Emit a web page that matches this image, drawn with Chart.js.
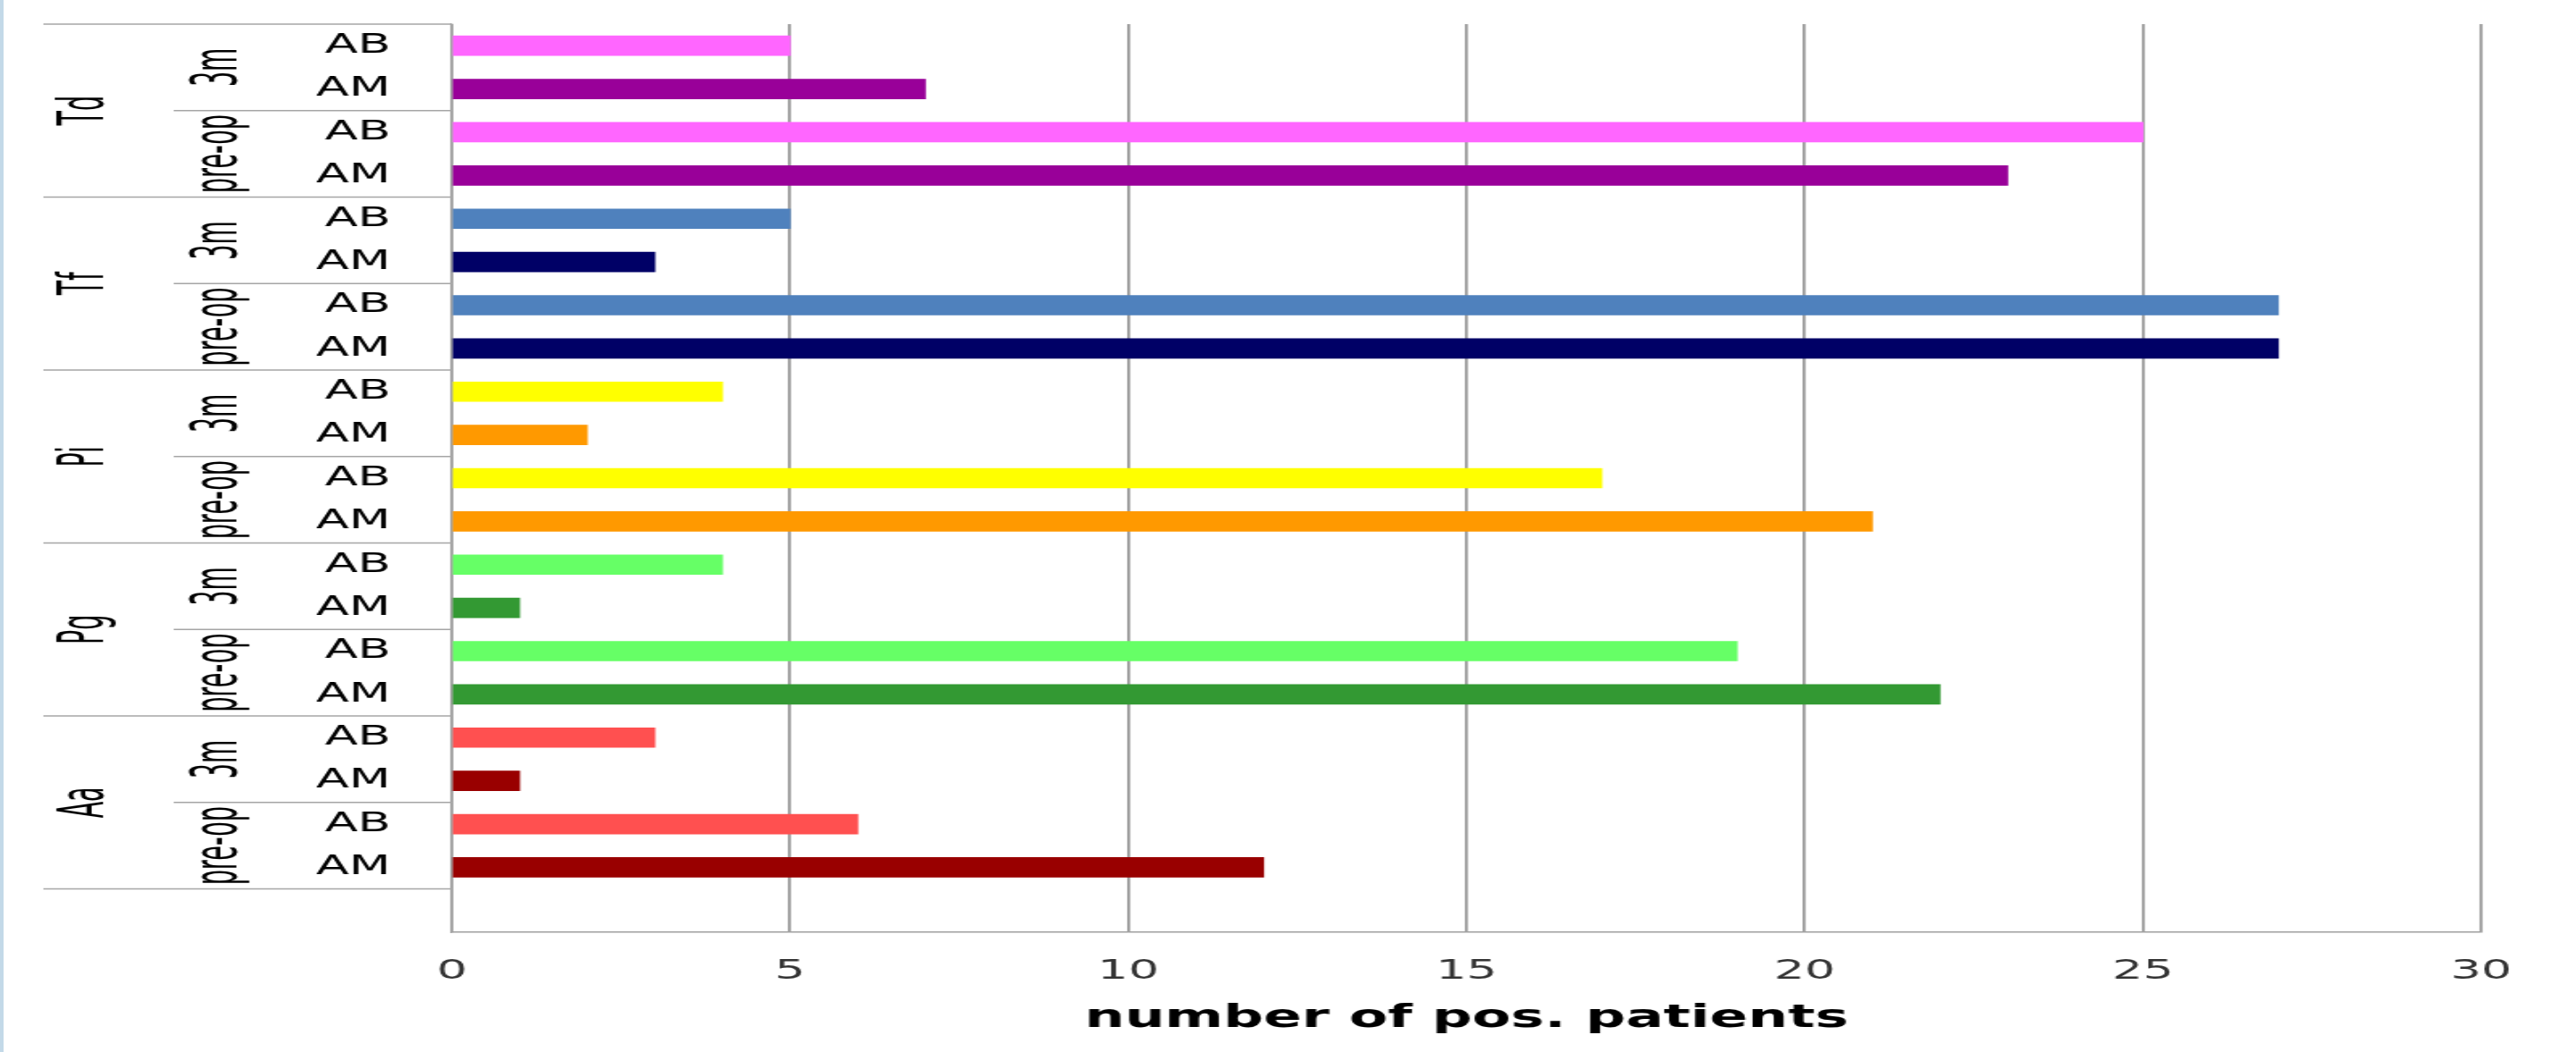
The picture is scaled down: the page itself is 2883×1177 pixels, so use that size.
<!doctype html>
<html lang="en">
<head>
  <meta charset="utf-8">
  <script src="https://cdn.jsdelivr.net/npm/chart.js@4.4.1/dist/chart.umd.min.js"></script>
  <title>pos. patients</title>
  <style>
    body { margin: 0; background: #fff; }
    #wrap { position: relative; width: 2883px; height: 1177px; }
    /* the chart was stretched sideways in the source, so the canvas is too */
    #myChart { width: 2883px !important; height: 1177px !important; display: block; }
    #edge { position: absolute; left: 0; top: 0; width: 4px; height: 1177px; background: #c3d9e8; }
  </style>
</head>
<body>
  <div id="wrap">
    <canvas id="myChart" width="1602" height="1177" style="width:2883px;height:1177px"></canvas>
    <div id="edge"></div>
  </div>
  <script>
    // data, top to bottom
    const groups = ['Td', 'Tf', 'Pi', 'Pg', 'Aa'];
    const periods = ['3m', 'pre-op'];
    const assays = ['AB', 'AM'];
    const values = [
      5, 7, 25, 23,   // Td
      5, 3, 27, 27,   // Tf
      4, 2, 17, 21,   // Pi
      4, 1, 19, 22,   // Pg
      3, 1, 6, 12     // Aa
    ];
    const abColors = ['#ff66ff', '#4f81bd', '#ffff00', '#66ff66', '#ff5050'];
    const amColors = ['#990099', '#000066', '#ff9900', '#339933', '#990000'];
    const xTicks = [0, 5, 10, 15, 20, 25, 30];

    const labels = [];
    const colors = [];
    groups.forEach((g, gi) => {
      periods.forEach(p => {
        assays.forEach(a => {
          labels.push(a);
          colors.push(a === 'AB' ? abColors[gi] : amColors[gi]);
        });
      });
    });
    // empty row at the bottom, as in the original
    labels.push('');
    colors.push('#fff');
    const data = values.concat([null]);

    const lineColor = '#a6a6a6';
    const tableLeft = 27;
    const subLeft = 108;

    const tablePlugin = {
      id: 'table',
      afterDraw(chart) {
        const ctx = chart.ctx;
        const y = chart.scales.y;
        const area = chart.chartArea;
        const half = (y.getPixelForValue(1) - y.getPixelForValue(0)) / 2;
        const rowTop = i => y.getPixelForValue(i) - half;
        ctx.save();
        ctx.strokeStyle = lineColor;
        ctx.lineWidth = 1.5;
        for (let i = 0; i <= labels.length; i += 2) {
          const yy = i === labels.length ? area.bottom : rowTop(i);
          const x0 = (i % 4 === 0 || i >= values.length) ? tableLeft : subLeft;
          ctx.beginPath();
          ctx.moveTo(x0, yy);
          ctx.lineTo(area.left, yy);
          ctx.stroke();
        }
        ctx.fillStyle = '#000';
        ctx.textAlign = 'center';
        ctx.textBaseline = 'middle';
        ctx.font = '27px "DejaVu Sans"';
        const drawUp = (text, x, cy) => {
          ctx.save();
          ctx.translate(x, cy);
          ctx.rotate(-Math.PI / 2);
          ctx.scale(1, 1.45);
          ctx.fillText(text, 0, 0);
          ctx.restore();
        };
        groups.forEach((g, gi) => {
          const top = rowTop(gi * 4);
          drawUp(g, 54, top + 4 * half);
          periods.forEach((p, pi) => {
            drawUp(p, 137, top + pi * 4 * half + 2 * half);
          });
        });
        ctx.restore();
      }
    };

    const config = {
      type: 'bar',
      data: {
        labels: labels,
        datasets: [{
          data: data,
          backgroundColor: colors,
          barThickness: 22
        }]
      },
      options: {
        indexAxis: 'y',
        responsive: false,
        animation: false,
        layout: { padding: { left: 0, right: 59, top: 27, bottom: 0 } },
        plugins: {
          legend: { display: false },
          tooltip: { enabled: false }
        },
        scales: {
          y: {
            grid: { display: false, drawTicks: false },
            border: { display: true, color: '#a0a0a0', width: 1.3 },
            ticks: {
              autoSkip: false,
              padding: 38,
              color: '#000',
              font: { family: 'DejaVu Sans', size: 30 }
            },
            afterFit(scale) {
              scale.width = 281;
              scale.paddingTop = 0;
              scale.paddingBottom = 0;
            }
          },
          x: {
            min: 0,
            max: 30,
            afterBuildTicks(scale) { scale.ticks = xTicks.map(v => ({ value: v })); },
            grid: { color: '#9a9a9a', lineWidth: 1.8, drawTicks: false },
            border: { display: true, color: '#a0a0a0', width: 1.5 },
            ticks: {
              padding: 26,
              color: '#333',
              font: { family: 'DejaVu Sans', size: 30 }
            },
            title: {
              display: true,
              text: 'number of pos. patients',
              color: '#000',
              font: { family: 'DejaVu Sans', size: 35, weight: 'bold' },
              padding: { top: 0, bottom: 16 }
            },
            afterFit(scale) { scale.height = 134; }
          }
        }
      },
      plugins: [tablePlugin]
    };

    const ctx = document.getElementById('myChart').getContext('2d');
    const myChart = new Chart(ctx, config);
  </script>
</body>
</html>
